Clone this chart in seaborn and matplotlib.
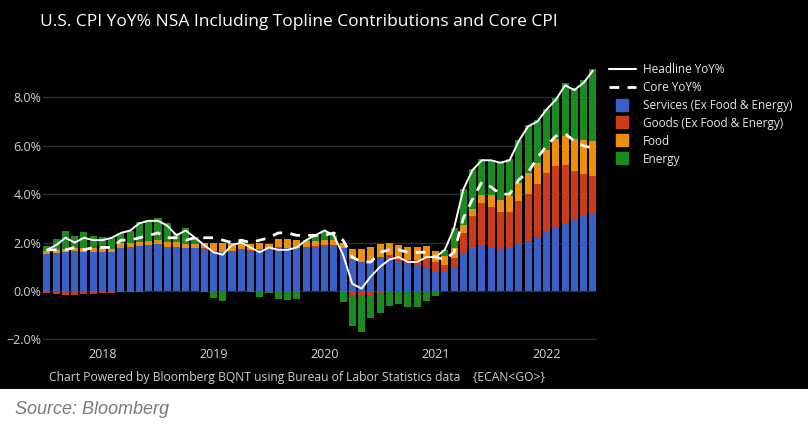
import numpy as np
import pandas as pd
import matplotlib.pyplot as plt
from matplotlib.lines import Line2D
from matplotlib.patches import Rectangle
import seaborn as sns

# monthly, Jul 2017 .. Jun 2022 (contributions in percentage points)
months = pd.date_range('2017-07-01', '2022-06-01', freq='MS')

services = [1.52, 1.58, 1.60, 1.65, 1.60, 1.63,
            1.63, 1.60, 1.79, 1.83, 1.87, 1.89, 1.94, 1.83, 1.83, 1.79, 1.79, 1.75,
            1.63, 1.60, 1.65, 1.70, 1.65, 1.70, 1.74, 1.76, 1.76, 1.76, 1.80, 1.83,
            1.90, 1.90, 1.76, 1.32, 1.21, 1.24, 1.39, 1.42, 1.21, 1.10, 1.07, 0.98,
            0.83, 0.80, 1.00, 1.53, 1.76, 1.86, 1.76, 1.69, 1.79, 2.00, 2.08, 2.25,
            2.49, 2.66, 2.80, 2.96, 3.10, 3.24]
goods = [-0.07, -0.12, -0.15, -0.15, -0.12, -0.12,
         -0.10, -0.08, -0.05, -0.04, -0.03, -0.02, -0.02, -0.01, -0.01, -0.02, -0.01, 0.01,
         0.02, 0.02, 0.02, 0.03, 0.04, 0.03, 0.05, 0.05, 0.03, 0.02, 0.01, 0.01,
         0.00, -0.01, -0.03, -0.15, -0.20, -0.18, -0.10, 0.05, 0.21, 0.18, 0.21, 0.44,
         0.35, 0.27, 0.35, 0.88, 1.34, 1.76, 1.72, 1.59, 1.49, 1.72, 1.92, 2.17,
         2.37, 2.51, 2.40, 2.00, 1.73, 1.51]
food = [0.13, 0.11, 0.12, 0.14, 0.16, 0.16,
        0.16, 0.15, 0.18, 0.17, 0.17, 0.18, 0.16, 0.18, 0.18, 0.17, 0.17, 0.22,
        0.32, 0.35, 0.30, 0.22, 0.25, 0.27, 0.16, 0.32, 0.34, 0.34, 0.25, 0.24,
        0.20, 0.20, 0.21, 0.40, 0.52, 0.56, 0.54, 0.50, 0.48, 0.52, 0.55, 0.45,
        0.49, 0.39, 0.41, 0.32, 0.27, 0.35, 0.49, 0.48, 0.65, 0.73, 0.86, 0.88,
        0.97, 1.10, 1.20, 1.31, 1.41, 1.45]
energy = [0.22, 0.46, 0.76, 0.48, 0.66, 0.50,
          0.46, 0.45, 0.41, 0.48, 0.80, 0.86, 0.90, 0.79, 0.37, 0.63, 0.29, -0.05,
          -0.30, -0.40, 0.02, 0.10, -0.05, -0.25, -0.10, -0.35, -0.38, -0.35, 0.05, 0.22,
          0.35, 0.21, -0.44, -1.30, -1.48, -0.95, -0.82, -0.62, -0.54, -0.65, -0.65, -0.40,
          -0.20, 0.23, 0.83, 1.47, 1.66, 1.47, 1.44, 1.58, 1.51, 1.79, 2.00, 1.77,
          1.67, 1.69, 2.18, 2.10, 2.48, 2.96]
headline = [1.7, 1.9, 2.2, 2.0, 2.2, 2.1,
            2.1, 2.2, 2.4, 2.5, 2.8, 2.9, 2.9, 2.7, 2.3, 2.5, 2.2, 1.9,
            1.6, 1.5, 1.9, 2.0, 1.8, 1.6, 1.8, 1.7, 1.7, 1.8, 2.1, 2.3,
            2.5, 2.3, 1.5, 0.3, 0.1, 0.6, 1.0, 1.3, 1.4, 1.2, 1.2, 1.4,
            1.4, 1.7, 2.6, 4.2, 5.0, 5.4, 5.4, 5.3, 5.4, 6.2, 6.8, 7.0,
            7.5, 7.9, 8.5, 8.3, 8.6, 9.1]
core = [1.7, 1.7, 1.7, 1.8, 1.7, 1.8,
        1.8, 1.8, 2.1, 2.1, 2.2, 2.3, 2.4, 2.2, 2.2, 2.1, 2.2, 2.2,
        2.2, 2.1, 2.0, 2.1, 2.0, 2.1, 2.2, 2.4, 2.4, 2.3, 2.3, 2.3,
        2.3, 2.4, 2.1, 1.4, 1.2, 1.2, 1.6, 1.7, 1.7, 1.6, 1.6, 1.6,
        1.4, 1.3, 1.6, 3.0, 3.8, 4.5, 4.3, 4.0, 4.0, 4.6, 4.9, 5.5,
        6.0, 6.4, 6.5, 6.2, 6.0, 5.9]

year_labels = ['2018', '2019', '2020', '2021', '2022']
y_ticks = [-2, 0, 2, 4, 6, 8]

series = [('Services (Ex Food & Energy)', services, '#3a60c8'),
          ('Goods (Ex Food & Energy)', goods, '#cc3a1c'),
          ('Food', food, '#eb8f0c'),
          ('Energy', energy, '#1b8a1f')]

sns.set_theme(style='dark', rc={'axes.facecolor': 'black', 'figure.facecolor': 'white',
                                'axes.grid': True, 'grid.color': '#2c2c38'})
plt.rcParams['font.family'] = ['Open Sans', 'DejaVu Sans']

df = pd.DataFrame({'month': months, 'idx': np.arange(len(months)),
                   'Headline YoY%': headline, 'Core YoY%': core})
for name, vals, _ in series:
    df[name] = vals

W, H = 808, 434
fig = plt.figure(figsize=(W / 100, H / 100), dpi=100)
fig.patches.append(Rectangle((0, 1 - 389 / H), 1, 389 / H, transform=fig.transFigure,
                             facecolor='black', edgecolor='none', zorder=-10))
ax = fig.add_axes([42.8 / W, 89 / H, (597 - 42.8) / W, (372 - 89) / H])
ax.set_axisbelow(True)

# stack positives upward and negatives downward
pos = np.zeros(len(df))
neg = np.zeros(len(df))
for name, _, color in series:
    vals = df[name].to_numpy()
    bottom = np.where(vals >= 0, pos, neg)
    sns.barplot(x=df['idx'], y=vals, bottom=bottom, color=color, saturation=1,
                width=0.76, native_scale=True, errorbar=None, linewidth=0, ax=ax)
    pos += np.clip(vals, 0, None)
    neg += np.clip(vals, None, 0)

sns.lineplot(data=df, x='idx', y='Headline YoY%', color='white', linewidth=1.4, ax=ax)
sns.lineplot(data=df, x='idx', y='Core YoY%', color='white', linewidth=2,
             linestyle=(0, (3.5, 3)), ax=ax)

ax.set_xlim(-0.45, 59.45)
ax.set_ylim(-2.23, 9.46)
ax.set_xticks([6, 18, 30, 42, 54], year_labels)
ax.set_yticks(y_ticks, [f'{v:.1f}%'.replace('-', '\u2212') for v in y_ticks])
ax.grid(axis='x', visible=False)
ax.grid(axis='y', color='#2c2c38', linewidth=1)
ax.tick_params(axis='y', length=0, pad=1, labelsize=9, labelcolor='#cfcfcf')
ax.tick_params(axis='x', length=0, pad=2, labelsize=9, labelcolor='#d6d6d6')
ax.set_xlabel('')
ax.set_ylabel('')
for s in ax.spines.values():
    s.set_visible(False)

handles = [Line2D([], [], color='white', linewidth=1.5),
           Line2D([], [], color='white', linewidth=2, linestyle=(0, (3.5, 3)))]
labels = ['Headline YoY%', 'Core YoY%']
for name, _, color in series:
    handles.append(Line2D([], [], marker='s', linestyle='none', markersize=8,
                          markerfacecolor=color, markeredgecolor=color))
    labels.append(name)
fig.legend(handles, labels, loc='upper left', bbox_to_anchor=(604 / W, 1 - 58 / H),
           frameon=False, fontsize=8.5, labelcolor='#e6e6e6', handlelength=2.3,
           handletextpad=0.6, labelspacing=0.42, borderaxespad=0)

fig.text(40 / W, 1 - 22 / H, 'U.S. CPI YoY% NSA Including Topline Contributions and Core CPI',
         color='white', fontsize=12.5, ha='left', va='center')
fig.text(297 / W, 1 - 377 / H,
         'Chart Powered by Bloomberg BQNT using Bureau of Labor Statistics data    {ECAN<GO>}',
         color='#cfcfcf', fontsize=8.7, ha='center', va='center')
fig.text(15 / W, 1 - 409 / H, 'Source: Bloomberg', color='#7a7a7a', fontsize=13,
         style='italic', family=['Liberation Sans', 'DejaVu Sans'], ha='left', va='center')

fig.savefig('out.png', dpi=100)
